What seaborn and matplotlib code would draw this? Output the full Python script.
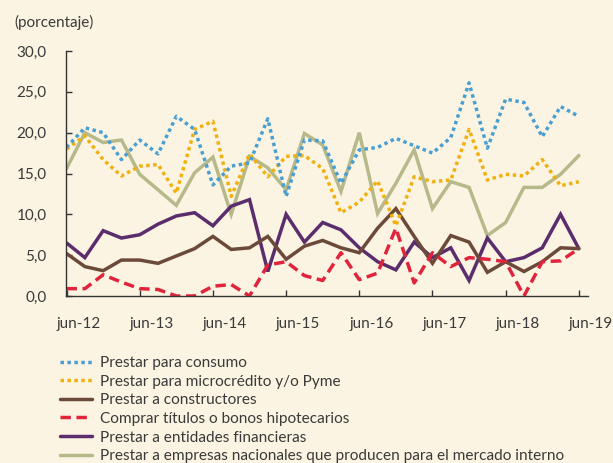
import numpy as np
import pandas as pd
import matplotlib
matplotlib.use("Agg")
import matplotlib.pyplot as plt
import matplotlib.transforms as mtransforms
import seaborn as sns

# ---- data (quarterly, jun-12 .. jun-19) ----
periodos = list(range(29))
tick_pos = [0, 4, 8, 12, 16, 20, 24, 28]
tick_labels = ["jun-12", "jun-13", "jun-14", "jun-15", "jun-16", "jun-17", "jun-18", "jun-19"]

consumo = [18.2, 20.6, 20.0, 16.7, 19.1, 17.4, 22.0, 20.4, 13.6, 15.9, 16.3, 21.7, 12.2, 19.1,
           19.0, 13.8, 17.9, 18.2, 19.3, 18.4, 17.5, 19.4, 26.1, 18.1, 24.1, 23.7, 19.5, 23.2, 22.0]
microcredito = [18.0, 19.6, 16.7, 14.7, 15.9, 16.1, 12.6, 20.4, 21.4, 12.2, 17.4, 14.6, 17.1, 17.2,
                15.6, 10.2, 11.5, 14.1, 8.6, 14.6, 14.0, 14.2, 20.4, 14.2, 14.9, 14.7, 16.7, 13.5, 14.0]
constructores = [5.2, 3.6, 3.1, 4.4, 4.4, 4.0, 4.9, 5.8, 7.3, 5.7, 5.9, 7.3, 4.5, 6.1,
                 6.8, 5.9, 5.3, 8.3, 10.7, 7.3, 4.0, 7.4, 6.6, 2.9, 4.2, 3.0, 4.2, 5.9, 5.8]
titulos = [0.9, 0.9, 2.6, 1.7, 0.9, 0.8, 0.0, 0.0, 1.2, 1.4, 0.0, 3.8, 4.2, 2.5,
           1.9, 5.3, 2.0, 2.8, 8.3, 1.6, 5.3, 3.6, 4.7, 4.5, 4.2, 0.0, 4.2, 4.3, 5.8]
entidades = [6.5, 4.7, 8.0, 7.1, 7.5, 8.8, 9.8, 10.2, 8.6, 11.0, 11.8, 3.0, 10.0, 6.6,
             9.0, 8.1, 5.9, 4.2, 3.2, 6.6, 4.7, 5.9, 1.9, 7.1, 4.2, 4.7, 5.9, 10.0, 5.8]
empresas = [15.6, 20.0, 18.8, 19.1, 14.9, 13.0, 11.1, 15.1, 17.0, 10.0, 17.1, 15.7, 13.0, 19.9,
            18.5, 12.8, 20.0, 10.1, 13.8, 17.9, 10.7, 14.0, 13.3, 7.4, 9.0, 13.3, 13.3, 14.9, 17.2]

series_names = [
    "Prestar para consumo",
    "Prestar para microcrédito y/o Pyme",
    "Prestar a constructores",
    "Comprar títulos o bonos hipotecarios",
    "Prestar a entidades financieras",
    "Prestar a empresas nacionales que producen para el mercado interno",
]
series_values = [consumo, microcredito, constructores, titulos, entidades, empresas]

colors = ["#4a9fd2", "#efb10f", "#6c4a3a", "#e0243c", "#5b2d6c", "#b6b98a"]
dash_specs = [(1, 1), (1, 1), "", (3.0, 1.6), "", ""]

bg = "#fcf4e3"

rows = []
for name, vals in zip(series_names, series_values):
    for p, v in zip(periodos, vals):
        rows.append({"periodo": p, "valor": v, "serie": name})
df = pd.DataFrame(rows)

sns.set_style("ticks")
plt.rcParams["font.family"] = ["Lato", "DejaVu Sans"]

fig = plt.figure(figsize=(6.13, 4.63), dpi=100, facecolor=bg)
ax = fig.add_axes([66 / 613, 1 - 296 / 463, (588 - 66) / 613, (296 - 51) / 463])
ax.set_facecolor(bg)

draw_order = [5, 4, 2, 3, 1, 0]
handles = {}
for k in draw_order:
    name = series_names[k]
    sub = df[df["serie"] == name]
    sns.lineplot(data=sub, x="periodo", y="valor", ax=ax, color=colors[k],
                 linewidth=2.5, legend=False, estimator=None)
    line = ax.lines[-1]
    if dash_specs[k] != "":
        line.set_dashes(dash_specs[k])
        line.set_dash_capstyle("butt")
    line.set_solid_joinstyle("miter")
    handles[k] = line

ax.set_xlim(-0.03, 28.5)
ax.set_ylim(0, 30)
ax.set_xlabel("")
ax.set_ylabel("")

yt = [0, 5, 10, 15, 20, 25, 30]
ax.set_yticks(yt)
ax.set_yticklabels([f"{v:.1f}".replace(".", ",") for v in yt])
ax.set_xticks(tick_pos)
ax.set_xticklabels(tick_labels)

ax.tick_params(axis="both", direction="in", length=4, width=1.0, colors="#333333",
               labelsize=11, labelcolor="#3a3a3a", pad=14)
ax.tick_params(axis="x", pad=15)
for s in ["top", "right"]:
    ax.spines[s].set_visible(False)
for s in ["left", "bottom"]:
    ax.spines[s].set_color("#333333")
    ax.spines[s].set_linewidth(1.0)

offset = mtransforms.ScaledTranslation(12 / 100, 0, fig.dpi_scale_trans)
for lab in ax.get_xticklabels():
    lab.set_transform(lab.get_transform() + offset)

fig.text(14 / 613, 1 - 22.5 / 463, "(porcentaje)", fontsize=11, color="#3a3a3a", va="center")

leg_handles = [handles[k] for k in range(6)]
leg = fig.legend(leg_handles, series_names, loc="upper left",
                 bbox_to_anchor=(60 / 613, 1 - 356 / 463), frameon=False,
                 fontsize=11.1, handlelength=2.1, handletextpad=0.5,
                 labelspacing=0.3, borderpad=0, borderaxespad=0)
for t in leg.get_texts():
    t.set_color("#3a3a3a")

fig.savefig("out.png", dpi=100, facecolor=bg)
